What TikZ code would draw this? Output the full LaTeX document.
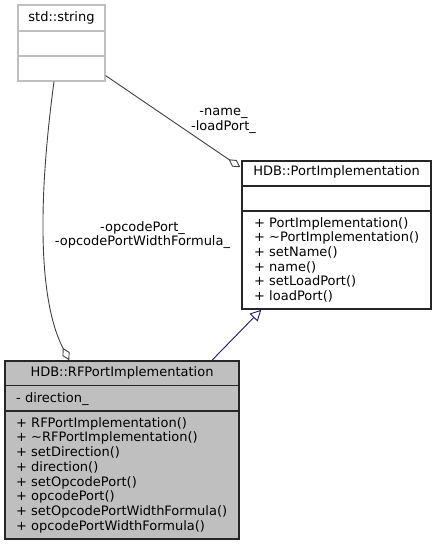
\documentclass[tikz,border=0pt]{standalone}
\usepackage{fontspec}
\setmainfont{DejaVu Sans}
\usetikzlibrary{arrows.meta,calc}
\definecolor{grayfill}{HTML}{BFBFBF}
\definecolor{edgegray}{HTML}{404040}
\definecolor{inhblue}{HTML}{191970}
\begin{document}
\begin{tikzpicture}[x=1pt,y=-1pt,
  txt/.style={inner sep=0pt, font=\fontsize{13}{14.7}\selectfont},
  extbox/.style={draw=grayfill, line width=1.2pt, inner sep=0pt},
  classbox/.style={draw=black!85, line width=1.5pt, inner sep=0pt},
  rfbox/.style={draw=black!85, fill=grayfill, line width=1.5pt, inner sep=0pt},
  extsep/.style={draw=grayfill, line width=1.2pt},
  clssep/.style={draw=black!85, line width=1.5pt},
  assoc/.style={draw=edgegray, line width=0.9pt, -{Diamond[open,length=14pt,width=8pt]}},
  inherit/.style={draw=inhblue, line width=0.9pt, -{Triangle[open,length=11pt,width=11pt]}}]
\useasboundingbox (0,0) rectangle (437,545);

% std::string
\node[extbox, minimum width=87pt, minimum height=76pt] (str) at (61.5,43) {};
\draw[extsep] (18,31) -- (105,31);
\draw[extsep] (18,56) -- (105,56);
\node[txt, anchor=base] (strtitle) at (61.5,21.5) {std::string};

% HDB::PortImplementation
\node[classbox, minimum width=189pt, minimum height=148pt] (port) at (336.5,235) {};
\draw[clssep] (242,186) -- (431,186);
\draw[clssep] (242,211) -- (431,211);
\node[txt, anchor=base] (porttitle) at (336.5,176) {HDB::PortImplementation};
\node[txt, anchor=base west] (pm1) at (254,227) {+ PortImplementation()};
\node[txt, anchor=base west] (pm2) at (254,241.7) {+ \textasciitilde PortImplementation()};
\node[txt, anchor=base west] (pm3) at (254,256.4) {+ setName()};
\node[txt, anchor=base west] (pm4) at (254,271.1) {+ name()};
\node[txt, anchor=base west] (pm5) at (254,285.8) {+ setLoadPort()};
\node[txt, anchor=base west] (pm6) at (254,300.5) {+ loadPort()};

% HDB::RFPortImplementation
\node[rfbox, minimum width=234pt, minimum height=178pt] (rf) at (122,450) {};
\draw[clssep] (5,385.5) -- (239,385.5);
\draw[clssep] (5,411) -- (239,411);
\node[txt, anchor=base] (rftitle) at (122,376) {HDB::RFPortImplementation};
\node[txt, anchor=base west] (ra1) at (16,402) {- direction\_};
\node[txt, anchor=base west] (rm1) at (16,427.2) {+ RFPortImplementation()};
\node[txt, anchor=base west] (rm2) at (16,441.9) {+ \textasciitilde RFPortImplementation()};
\node[txt, anchor=base west] (rm3) at (16,456.6) {+ setDirection()};
\node[txt, anchor=base west] (rm4) at (16,471.3) {+ direction()};
\node[txt, anchor=base west] (rm5) at (16,486) {+ setOpcodePort()};
\node[txt, anchor=base west] (rm6) at (16,500.7) {+ opcodePort()};
\node[txt, anchor=base west] (rm7) at (16,515.4) {+ setOpcodePortWidthFormula()};
\node[txt, anchor=base west] (rm8) at (16,530.1) {+ opcodePortWidthFormula()};

% edges
\draw[assoc] ($(str.south east)+(0,-6)$) -- ($(port.north west)+(-1,7)$);
\draw[assoc] ($(str.south)+(-7.5,0)$) .. controls (38,200) and (38,300) .. ($(rf.north west)+(65,0)$);
\draw[inherit] ($(rf.north)+(90,0)$) -- ($(port.south west)+(20,0)$);

% edge labels
\node[txt, anchor=base] (lbl1a) at (223.5,115.8) {-name\_};
\node[txt, anchor=base] (lbl1b) at (223.5,130.5) {-loadPort\_};
\node[txt, anchor=base] (lbl2a) at (142.5,231) {-opcodePort\_};
\node[txt, anchor=base] (lbl2b) at (142.5,245.7) {-opcodePortWidthFormula\_};
\end{tikzpicture}
\end{document}
